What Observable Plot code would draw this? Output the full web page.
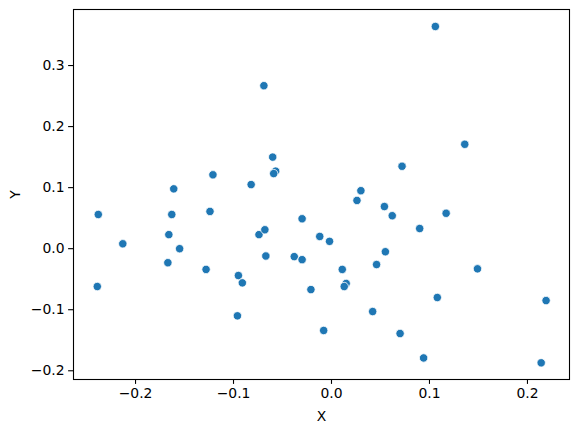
<!DOCTYPE html>
<html>
<head>
<meta charset="utf-8">
<script src="https://cdn.jsdelivr.net/npm/d3@7"></script>
<script src="https://cdn.jsdelivr.net/npm/@observablehq/plot@0.6"></script>
<style>
  html, body { margin: 0; padding: 0; background: #fff; }
  svg { display: block; }
</style>
</head>
<body>
<div id="chart"></div>
<script>
const xs = [-0.161, -0.121, -0.082, 0.106, -0.069, -0.060, -0.057, -0.059, 0.072, 0.030,
            0.026, 0.136, -0.238, -0.163, -0.124, -0.213, -0.166, -0.074, -0.068, -0.155,
            -0.167, -0.128, -0.095, -0.091, -0.239, -0.096, 0.054, 0.062, 0.117, -0.030,
            0.090, -0.012, -0.002, -0.067, -0.038, -0.030, 0.055, 0.046, 0.011, 0.015,
            0.013, -0.021, 0.108, 0.042, -0.008, 0.070, 0.094, 0.149, 0.219, 0.214];
const ys = [0.098, 0.121, 0.105, 0.364, 0.267, 0.150, 0.127, 0.123, 0.135, 0.095,
            0.079, 0.171, 0.056, 0.056, 0.061, 0.008, 0.023, 0.023, 0.031, 0.000,
            -0.023, -0.034, -0.044, -0.056, -0.062, -0.110, 0.069, 0.054, 0.058, 0.049,
            0.033, 0.020, 0.012, -0.012, -0.013, -0.018, -0.005, -0.026, -0.034, -0.057,
            -0.062, -0.067, -0.080, -0.103, -0.134, -0.139, -0.179, -0.033, -0.085, -0.187];
const xTicks = [-0.2, -0.1, 0.0, 0.1, 0.2];
const yTicks = [-0.2, -0.1, 0.0, 0.1, 0.2, 0.3];

const data = xs.map((x, i) => ({X: x, Y: ys[i]}));
const fmt = d3.format(".1f");

const chart = Plot.plot({
  width: 579,
  height: 432,
  marginLeft: 73,
  marginRight: 10,
  marginTop: 9,
  marginBottom: 53,
  style: {fontFamily: "DejaVu Sans", fontSize: "13.9px", color: "#000", background: "#fff"},
  x: {domain: [-0.2633, 0.2429]},
  y: {domain: [-0.2143, 0.3918]},
  marks: [
    Plot.axisX({ticks: xTicks, tickFormat: fmt, tickSize: 4.9, tickPadding: 4, strokeWidth: 1.1,
                label: "X", labelAnchor: "center", labelArrow: "none", labelOffset: 41, fontSize: "13.9px"}),
    Plot.axisY({ticks: yTicks, tickFormat: fmt, tickSize: 4.9, tickPadding: 4, strokeWidth: 1.1,
                label: "Y", labelAnchor: "center", labelArrow: "none", labelOffset: 63, fontSize: "13.9px"}),
    Plot.dot(data, {x: "X", y: "Y", r: 4.2, fill: "#1f77b4", stroke: "white", strokeWidth: 0.8}),
    Plot.frame({stroke: "#000", strokeWidth: 1.1})
  ]
});
document.getElementById("chart").appendChild(chart);
</script>
</body>
</html>
